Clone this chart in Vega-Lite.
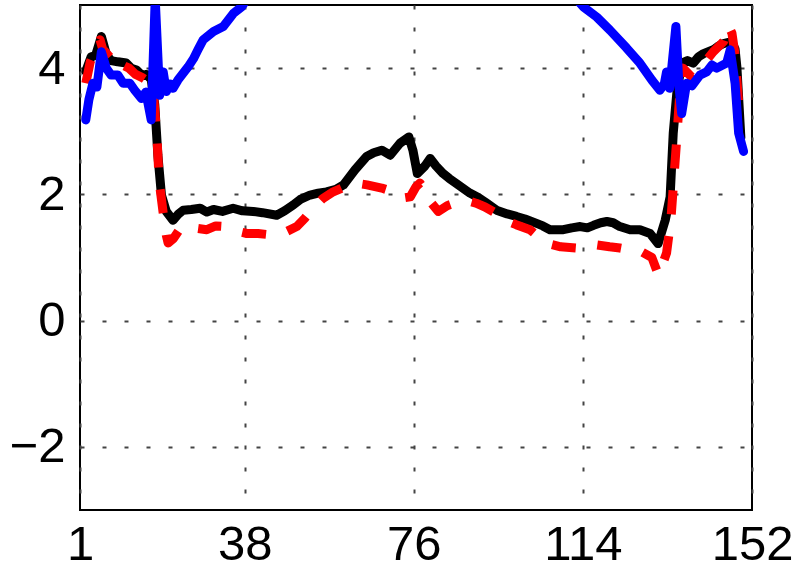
{
  "$schema": "https://vega.github.io/schema/vega-lite/v6.json",
  "width": 672,
  "height": 505,
  "autosize": {"type": "none"},
  "padding": {"left": 80, "top": 5, "right": 48, "bottom": 68},
  "background": "white",
  "config": {
    "view": {"stroke": "#000", "strokeWidth": 2},
    "axis": {
      "labelFont": "Liberation Sans",
      "labelFontSize": 49,
      "labelColor": "#000",
      "ticks": false,
      "domain": false,
      "grid": true,
      "gridColor": "#444",
      "gridWidth": 2,
      "gridDash": [4, 18],
      "gridOpacity": 1
    }
  },
  "datasets": {
    "k": [
      {"x": 2.3, "y": 3.95}, {"x": 3.5, "y": 4.18}, {"x": 4.5, "y": 4.2}, {"x": 5.8, "y": 4.5}, {"x": 7, "y": 4.2},
      {"x": 8, "y": 4.12}, {"x": 9.5, "y": 4.1}, {"x": 11.4, "y": 4.08}, {"x": 12.5, "y": 4.0}, {"x": 13.7, "y": 3.97},
      {"x": 15, "y": 3.88}, {"x": 16, "y": 3.9}, {"x": 17, "y": 3.82}, {"x": 17.8, "y": 3.42}, {"x": 18.5, "y": 2.62},
      {"x": 19.3, "y": 1.99}, {"x": 20.4, "y": 1.73}, {"x": 21.9, "y": 1.59}, {"x": 23, "y": 1.68}, {"x": 24.2, "y": 1.75},
      {"x": 26, "y": 1.76}, {"x": 28, "y": 1.78}, {"x": 29.5, "y": 1.72}, {"x": 31, "y": 1.76}, {"x": 33, "y": 1.73},
      {"x": 35.4, "y": 1.78}, {"x": 37.5, "y": 1.74}, {"x": 39.9, "y": 1.73}, {"x": 42, "y": 1.71}, {"x": 45.2, "y": 1.67},
      {"x": 47, "y": 1.74}, {"x": 48.9, "y": 1.83}, {"x": 50.5, "y": 1.92}, {"x": 52.7, "y": 1.99}, {"x": 54.5, "y": 2.02},
      {"x": 56.4, "y": 2.04}, {"x": 58.5, "y": 2.08}, {"x": 60.2, "y": 2.15}, {"x": 62.8, "y": 2.39}, {"x": 65.4, "y": 2.6},
      {"x": 67, "y": 2.66}, {"x": 68.8, "y": 2.7}, {"x": 70.7, "y": 2.62}, {"x": 72.9, "y": 2.81}, {"x": 74.9, "y": 2.91},
      {"x": 75.8, "y": 2.7}, {"x": 76.8, "y": 2.33}, {"x": 78.5, "y": 2.45}, {"x": 79.7, "y": 2.57}, {"x": 81, "y": 2.45},
      {"x": 82.6, "y": 2.33}, {"x": 84, "y": 2.25}, {"x": 85.6, "y": 2.17}, {"x": 88.6, "y": 2.02}, {"x": 90.5, "y": 1.95},
      {"x": 92, "y": 1.88}, {"x": 94.6, "y": 1.75}, {"x": 97, "y": 1.69}, {"x": 99.1, "y": 1.65}, {"x": 101, "y": 1.61},
      {"x": 103.6, "y": 1.54}, {"x": 105, "y": 1.5}, {"x": 106.6, "y": 1.44}, {"x": 109.6, "y": 1.44}, {"x": 111.5, "y": 1.47},
      {"x": 113.4, "y": 1.49}, {"x": 115, "y": 1.47}, {"x": 116.4, "y": 1.51}, {"x": 118, "y": 1.55}, {"x": 119.4, "y": 1.57},
      {"x": 120.8, "y": 1.55}, {"x": 122.3, "y": 1.49}, {"x": 124.6, "y": 1.44}, {"x": 126.8, "y": 1.44}, {"x": 129.1, "y": 1.38},
      {"x": 130.9, "y": 1.22}, {"x": 132.5, "y": 1.59}, {"x": 133.6, "y": 1.96}, {"x": 134.3, "y": 2.97}, {"x": 135.1, "y": 3.6},
      {"x": 136.2, "y": 4.08}, {"x": 137.5, "y": 4.12}, {"x": 138.8, "y": 4.08}, {"x": 140, "y": 4.18}, {"x": 141.1, "y": 4.23},
      {"x": 143.3, "y": 4.29}, {"x": 144.5, "y": 4.35}, {"x": 145.6, "y": 4.39}, {"x": 147.4, "y": 4.42}, {"x": 148.2, "y": 4.3},
      {"x": 148.6, "y": 4.02}, {"x": 149.5, "y": 2.9}
    ],
    "r": [
      {"x": 2.3, "y": 3.76}, {"x": 3.3, "y": 4.1}, {"x": 4.5, "y": 4.3}, {"x": 5.5, "y": 4.45}, {"x": 6.5, "y": 4.2},
      {"x": 7.8, "y": 4.28}, {"x": 9, "y": 4.12}, {"x": 10.5, "y": 4.05}, {"x": 12, "y": 4.0}, {"x": 13.5, "y": 3.9},
      {"x": 15, "y": 3.85}, {"x": 16.5, "y": 3.78}, {"x": 17.5, "y": 3.6}, {"x": 18.3, "y": 2.9}, {"x": 18.8, "y": 2.2},
      {"x": 19.7, "y": 1.7}, {"x": 20.4, "y": 1.35}, {"x": 20.8, "y": 1.23}, {"x": 22, "y": 1.3}, {"x": 23.7, "y": 1.48},
      {"x": 26.5, "y": 1.47}, {"x": 29.5, "y": 1.44}, {"x": 31.5, "y": 1.5}, {"x": 33.6, "y": 1.49}, {"x": 36, "y": 1.42},
      {"x": 38.5, "y": 1.38}, {"x": 41, "y": 1.38}, {"x": 43.7, "y": 1.36}, {"x": 46.5, "y": 1.38}, {"x": 49.7, "y": 1.49},
      {"x": 51.5, "y": 1.62}, {"x": 53.4, "y": 1.78}, {"x": 55.5, "y": 1.93}, {"x": 57.9, "y": 2.04}, {"x": 60.5, "y": 2.12},
      {"x": 62.8, "y": 2.18}, {"x": 65.5, "y": 2.15}, {"x": 68.8, "y": 2.1}, {"x": 71, "y": 2.05}, {"x": 73.3, "y": 1.94},
      {"x": 75.2, "y": 1.96}, {"x": 76.5, "y": 2.12}, {"x": 77.4, "y": 2.18}, {"x": 78.5, "y": 2.07}, {"x": 80, "y": 1.86},
      {"x": 81.5, "y": 1.73}, {"x": 83.5, "y": 1.82}, {"x": 85.9, "y": 1.88}, {"x": 88, "y": 1.9}, {"x": 90, "y": 1.86},
      {"x": 92, "y": 1.8}, {"x": 94, "y": 1.72}, {"x": 96.5, "y": 1.59}, {"x": 99, "y": 1.52}, {"x": 102.1, "y": 1.44},
      {"x": 104, "y": 1.33}, {"x": 106.2, "y": 1.22}, {"x": 109, "y": 1.17}, {"x": 112.6, "y": 1.15}, {"x": 115, "y": 1.2},
      {"x": 117.1, "y": 1.2}, {"x": 120, "y": 1.17}, {"x": 122.3, "y": 1.15}, {"x": 124.6, "y": 1.12}, {"x": 127.2, "y": 1.09},
      {"x": 129.5, "y": 1.0}, {"x": 131, "y": 0.72}, {"x": 132.8, "y": 1.07}, {"x": 133.8, "y": 1.62}, {"x": 134.6, "y": 2.4},
      {"x": 135.1, "y": 2.89}, {"x": 135.8, "y": 3.63}, {"x": 136.5, "y": 4.0}, {"x": 137.3, "y": 3.94}, {"x": 138.4, "y": 3.86},
      {"x": 140, "y": 3.98}, {"x": 141.5, "y": 4.1}, {"x": 143.3, "y": 4.26}, {"x": 145.6, "y": 4.42}, {"x": 146.7, "y": 4.68},
      {"x": 147.5, "y": 4.55}, {"x": 148.2, "y": 4.21}, {"x": 149.3, "y": 3.15}
    ],
    "b": [
      {"x": 2.3, "y": 3.18}, {"x": 3.0, "y": 3.5}, {"x": 3.9, "y": 3.76}, {"x": 4.8, "y": 3.7}, {"x": 5.8, "y": 4.26},
      {"x": 6.9, "y": 4.0}, {"x": 8, "y": 3.89}, {"x": 9.5, "y": 3.89}, {"x": 10.7, "y": 3.76}, {"x": 12.2, "y": 3.76},
      {"x": 13.3, "y": 3.65}, {"x": 14.8, "y": 3.52}, {"x": 15.8, "y": 3.62}, {"x": 17, "y": 3.18}, {"x": 17.9, "y": 5.1},
      {"x": 18.9, "y": 3.57}, {"x": 19.7, "y": 3.94}, {"x": 20.4, "y": 3.63}, {"x": 21.2, "y": 3.75}, {"x": 21.9, "y": 3.68},
      {"x": 23, "y": 3.81}, {"x": 25.3, "y": 4.02}, {"x": 26.5, "y": 4.15}, {"x": 27.5, "y": 4.29}, {"x": 28.7, "y": 4.45},
      {"x": 31, "y": 4.58}, {"x": 33.2, "y": 4.66}, {"x": 35.5, "y": 4.87}, {"x": 37.3, "y": 4.97}, {"x": 40, "y": 5.25},
      {"x": 50, "y": 5.8}, {"x": 76, "y": 6.2}, {"x": 100, "y": 5.8}, {"x": 110, "y": 5.3}, {"x": 114.1, "y": 4.97},
      {"x": 117.1, "y": 4.81}, {"x": 120.1, "y": 4.6}, {"x": 123.8, "y": 4.32}, {"x": 126.8, "y": 4.08}, {"x": 129.5, "y": 3.81},
      {"x": 131.3, "y": 3.65}, {"x": 132.3, "y": 3.75}, {"x": 132.8, "y": 3.94}, {"x": 133.5, "y": 3.68}, {"x": 134.9, "y": 4.66},
      {"x": 135.6, "y": 3.7}, {"x": 136.2, "y": 3.28}, {"x": 137.3, "y": 3.76}, {"x": 138.5, "y": 3.72}, {"x": 140.3, "y": 3.89},
      {"x": 141.8, "y": 3.94}, {"x": 143, "y": 4.05}, {"x": 144.1, "y": 4.0}, {"x": 146.3, "y": 4.08}, {"x": 147.1, "y": 4.29},
      {"x": 148.2, "y": 3.76}, {"x": 149, "y": 2.97}, {"x": 150.1, "y": 2.68}
    ]
  },
  "encoding": {
    "x": {
      "field": "x", "type": "quantitative",
      "scale": {"domain": [1, 152], "nice": false, "zero": false},
      "axis": {"values": [1, 38, 76, 114, 152], "title": null, "labelPadding": 10, "labelFlush": false}
    },
    "y": {
      "field": "y", "type": "quantitative",
      "scale": {"domain": [-3, 5], "nice": false, "zero": false},
      "axis": {"values": [-2, 0, 2, 4], "title": null, "labelPadding": 15}
    }
  },
  "layer": [
    {
      "data": {"name": "k"},
      "mark": {"type": "line", "color": "#000000", "strokeWidth": 9, "strokeJoin": "round", "strokeCap": "round", "clip": true}
    },
    {
      "data": {"name": "r"},
      "mark": {"type": "line", "color": "#ff0000", "strokeWidth": 9, "strokeJoin": "round", "strokeCap": "butt", "strokeDash": [24, 22], "clip": true}
    },
    {
      "data": {"name": "b"},
      "mark": {"type": "line", "color": "#0000ff", "strokeWidth": 9, "strokeJoin": "round", "strokeCap": "round", "clip": true}
    }
  ]
}
